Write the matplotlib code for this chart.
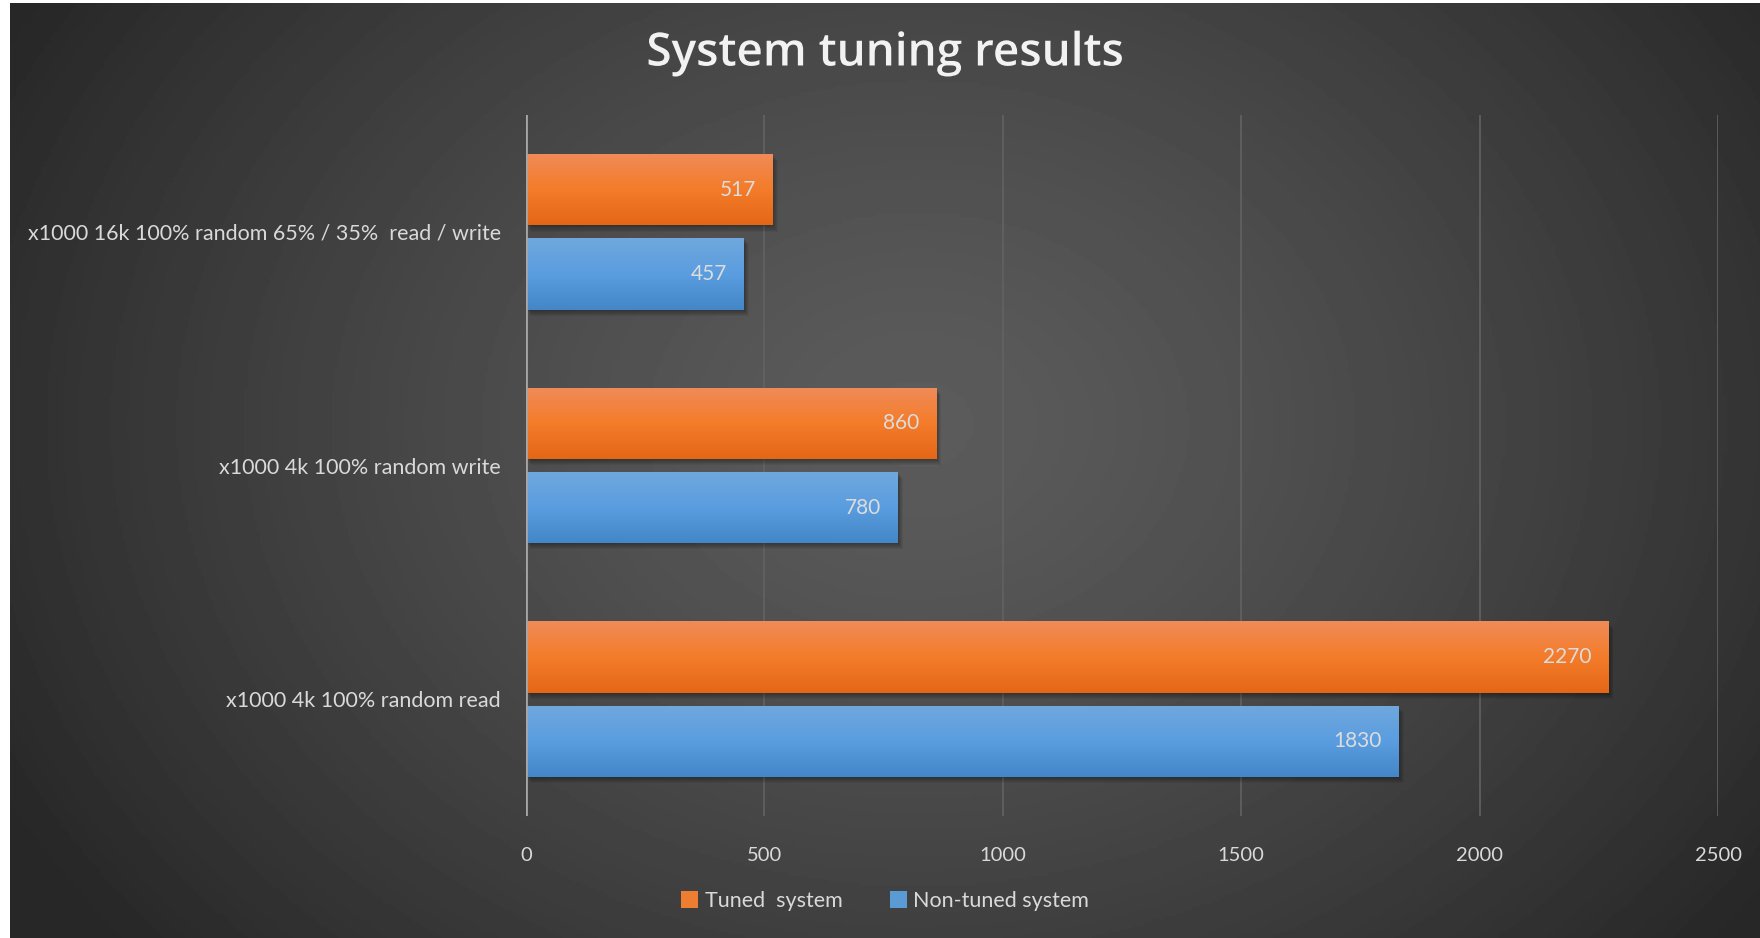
import numpy as np
import matplotlib
matplotlib.use("Agg")
import matplotlib.pyplot as plt
import matplotlib.patheffects as pe
from matplotlib.colors import LinearSegmentedColormap

categories = ["x1000 4k 100% random read",
              "x1000 4k 100% random write",
              "x1000 16k 100% random 65% / 35%  read / write"]
tuned = [2270, 860, 517]
non_tuned = [1830, 780, 457]
series_names = ["Tuned  system", "Non-tuned system"]
xticks = [0, 500, 1000, 1500, 2000, 2500]

W, H = 1760, 938
fig = plt.figure(figsize=(W / 100, H / 100), dpi=100)
fig.patch.set_facecolor("white")

# radial gradient background
bg = fig.add_axes([10 / W, 0, 1 - 10 / W, 1 - 3 / H])
bg.set_axis_off()
yy, xx = np.mgrid[0:300, 0:560]
cx, cy = 290, 135
r = np.sqrt(((xx - cx) / 330.0) ** 2 + ((yy - cy) / 260.0) ** 2)
r = np.clip(r, 0, 1)
val = 0.36 - (0.36 - 0.155) * r ** 1.3
bg.imshow(val, cmap="gray", vmin=0, vmax=1, aspect="auto", extent=[0, 1, 0, 1])
bg.set_xlim(0, 1)
bg.set_ylim(0, 1)

ax = fig.add_axes([526 / W, 1 - 816 / H, (1718 - 526) / W, (816 - 115) / H])
ax.patch.set_alpha(0)

y = np.arange(len(categories))
h = 0.305
off = 0.18
orange = "#ed7d31"
blue = "#5b9bd5"
b1 = ax.barh(y + off, tuned, height=h, color=orange, zorder=3, label=series_names[0])
b2 = ax.barh(y - off, non_tuned, height=h, color=blue, zorder=3, label=series_names[1])

cm_o = LinearSegmentedColormap.from_list("o", ["#e46716", "#f47c2a", "#f08b58"])
cm_b = LinearSegmentedColormap.from_list("b", ["#4487c8", "#5a9de0", "#70a8dd"])
grad = np.linspace(0, 1, 100).reshape(-1, 1)
for bars, cm in [(b1, cm_o), (b2, cm_b)]:
    for p in bars:
        x0, y0 = p.get_x(), p.get_y()
        w, hh = p.get_width(), p.get_height()
        # soft drop shadow
        for k in range(6):
            d = 2 + k * 2
            ax.add_patch(plt.Rectangle((x0 + d * 0.9, y0 - d * 0.0022), w, hh,
                                       color="black", alpha=0.06, zorder=2, lw=0))
        im = ax.imshow(grad, cmap=cm, aspect="auto", origin="lower",
                       extent=[x0, x0 + w, y0, y0 + hh], zorder=4)
        im.set_clip_path(p)

for bars, vals in [(b1, tuned), (b2, non_tuned)]:
    for p, v in zip(bars, vals):
        ax.text(v - 35, p.get_y() + p.get_height() / 2, str(v), ha="right",
                va="center", color="#dcdcdc", fontsize=15, family="Lato", zorder=5)

ax.set_xlim(0, 2500)
ax.set_ylim(-0.5, 2.5)
ax.set_xticks(xticks)
ax.set_xticklabels([str(t) for t in xticks], color="#d9d9d9", fontsize=14.5, family="Lato")
ax.set_yticks(y)
ax.set_yticklabels(categories, color="#d9d9d9", fontsize=15.5, family="Lato")
ax.tick_params(length=0, pad=18, axis="y")
ax.tick_params(length=0, pad=22, axis="x")
for s in ax.spines.values():
    s.set_visible(False)
ax.grid(axis="x", color="#626262", lw=1.2, zorder=1)
ax.axvline(0, color="#a6a6a6", lw=2, zorder=5)

fig.text(0.5 + 5 / W, 1 - 54 / H, "System tuning results", ha="center", va="center",
         color="#f2f2f2", fontsize=33, family="Open Sans", weight="semibold",
         path_effects=[pe.withSimplePatchShadow(offset=(1.5, -1.5), alpha=0.4)])

leg = fig.legend(handles=[b1, b2], labels=series_names, loc="center",
                 bbox_to_anchor=(0.5 + 5 / W, 1 - 901 / H), ncol=2, frameon=False,
                 handlelength=0.8, handleheight=0.8, handletextpad=0.3,
                 columnspacing=2.2, prop={"family": "Lato", "size": 15.5})
for t in leg.get_texts():
    t.set_color("#d9d9d9")

fig.savefig("out.png", dpi=100, facecolor=fig.get_facecolor())
